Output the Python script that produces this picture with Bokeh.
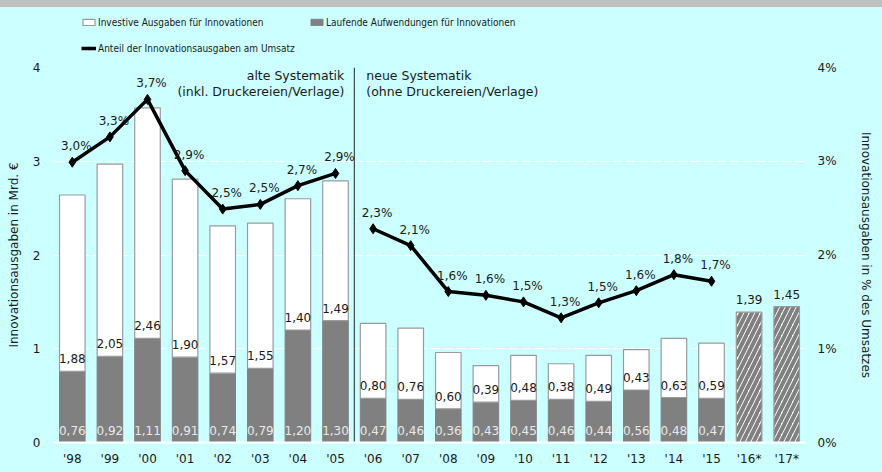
from bokeh.plotting import figure
from bokeh.models import (FactorRange, Range1d, LinearAxis, Label, Legend,
                          LegendItem, ColumnDataSource, Div)
from bokeh.layouts import column
from bokeh.embed import file_html
from bokeh.resources import INLINE
from bokeh.core.properties import value

# ---------------- data ----------------
years = ["'98", "'99", "'00", "'01", "'02", "'03", "'04", "'05", "'06", "'07",
         "'08", "'09", "'10", "'11", "'12", "'13", "'14", "'15", "'16*", "'17*"]
actual_years = years[:18]
plan_years = years[18:]
old_years = years[:8]
new_years = years[8:18]

laufende = [0.76, 0.92, 1.11, 0.91, 0.74, 0.79, 1.20, 1.30, 0.47, 0.46,
            0.36, 0.43, 0.45, 0.46, 0.44, 0.56, 0.48, 0.47]
investive = [1.88, 2.05, 2.46, 1.90, 1.57, 1.55, 1.40, 1.49, 0.80, 0.76,
             0.60, 0.39, 0.48, 0.38, 0.49, 0.43, 0.63, 0.59]
plan_total = [1.39, 1.45]
anteil = [2.99, 3.26, 3.66, 2.90, 2.49, 2.54, 2.74, 2.87, 2.28, 2.10,
          1.61, 1.57, 1.50, 1.33, 1.49, 1.62, 1.79, 1.72]

left_ticks = [0, 1, 2, 3, 4]
right_ticks = [0, 1, 2, 3, 4]

legend_labels = ["Investive Ausgaben für Innovationen",
                 "Laufende Aufwendungen für Innovationen",
                 "Anteil der Innovationsausgaben am Umsatz"]

# ---------------- style ----------------
BG = "#CCFFFF"
GREY = "#808080"
EDGE = "#9A9A9A"
FONT = "DejaVu Sans"
TXT = "#1a1a1a"
W = 882
STRIP_H = 7
LEG_H = 53
MAIN_H = 472 - STRIP_H - LEG_H
Y_MAX = left_ticks[-1]

def fmt(v, d):
    return f"{v:.{d}f}".replace(".", ",")

total = [a + b for a, b in zip(laufende, investive)]
src = ColumnDataSource(dict(x=actual_years, lauf=laufende, inv=investive, total=total,
                            lauf_lbl=[fmt(v, 2) for v in laufende],
                            inv_lbl=[fmt(v, 2) for v in investive]))
plan_src = ColumnDataSource(dict(x=plan_years, total=plan_total,
                                 lbl=[fmt(v, 2) for v in plan_total]))
pct_src = ColumnDataSource(dict(x=actual_years, y=anteil,
                                lbl=[fmt(v, 1) + "%" for v in anteil]))

bar_w = 0.68
lauf_style = dict(fill_color=GREY, line_color=GREY)
inv_style = dict(fill_color="white", line_color=EDGE, line_width=1.2)
line_style = dict(line_width=3.5, color="black")
mark_style = dict(marker="diamond", size=10, color="black")

# ---------------- main chart ----------------
p = figure(x_range=FactorRange(factors=years, range_padding=0),
           y_range=Range1d(0, Y_MAX), width=W, height=MAIN_H,
           output_backend="svg", toolbar_location=None,
           min_border_left=53, min_border_right=77, min_border_top=7,
           min_border_bottom=30, background_fill_color=BG,
           border_fill_color=BG, outline_line_color=None)
p.extra_y_ranges = {"pct": Range1d(0, Y_MAX)}

p.xgrid.grid_line_color = None
p.ygrid.grid_line_color = "white"
p.ygrid.grid_line_dash = "10 3"
p.ygrid.grid_line_width = 1.2
p.ygrid.ticker = left_ticks

p.vbar(x="x", bottom=0, top="lauf", width=bar_w, source=src, **lauf_style)
p.vbar(x="x", bottom="lauf", top="total", width=bar_w, source=src, **inv_style)
p.vbar(x="x", bottom=0, top="total", width=bar_w, source=plan_src,
       hatch_pattern="/", hatch_color=GREY, hatch_weight=4, hatch_scale=11, **inv_style)

sep = len(old_years)
p.segment(x0=[sep], y0=[0], x1=[sep], y1=[Y_MAX], line_color="#222222", line_width=1)

lbl_style = dict(text_align="center", text_baseline="bottom", y_offset=-8,
                 text_font=value(FONT), text_font_size="12px")
p.text(x="x", y=0, text="lauf_lbl", source=src, text_color="#E8E8E8", **lbl_style)
p.text(x="x", y="lauf", text="inv_lbl", source=src, text_color=TXT, **lbl_style)
p.text(x="x", y="total", text="lbl", source=plan_src, text_color=TXT, **lbl_style)

p.line(x=old_years, y=anteil[:8], y_range_name="pct", **line_style)
p.line(x=new_years, y=anteil[8:], y_range_name="pct", **line_style)
p.scatter(x="x", y="y", source=pct_src, y_range_name="pct", **mark_style)
p.text(x="x", y="y", text="lbl", source=pct_src, y_range_name="pct",
       text_align="center", text_baseline="middle", x_offset=4, y_offset=-16,
       text_color=TXT, text_font=value(FONT), text_font_size="12px")

for txt, yo, align, xo in [("alte Systematik", -8, "right", -10),
                           ("(inkl. Druckereien/Verlage)", -24, "right", -10),
                           ("neue Systematik", -8, "left", 12),
                           ("(ohne Druckereien/Verlage)", -24, "left", 12)]:
    p.add_layout(Label(x=sep, y=Y_MAX, text=txt, x_offset=xo, y_offset=yo,
                       text_align=align, text_baseline="middle",
                       text_font=FONT, text_font_size="12.5px", text_color=TXT))

p.xaxis.axis_line_color = "white"
p.xaxis.axis_line_width = 2
p.xaxis.major_tick_line_color = None
p.xaxis.minor_tick_line_color = None
p.xaxis.major_tick_out = 0
p.xaxis.major_label_standoff = 9
p.xaxis.major_label_text_font = FONT
p.xaxis.major_label_text_font_size = "12px"
p.xaxis.major_label_text_color = TXT

def style_y(ax, standoff, title, title_standoff):
    ax.axis_line_color = None
    ax.major_tick_line_color = None
    ax.minor_tick_line_color = None
    ax.major_tick_out = 0
    ax.major_tick_in = 0
    ax.minor_tick_out = 0
    ax.major_label_standoff = standoff
    ax.major_label_text_font = FONT
    ax.major_label_text_font_size = "12px"
    ax.major_label_text_color = TXT
    ax.axis_label = title
    ax.axis_label_text_font = FONT
    ax.axis_label_text_font_size = "12px"
    ax.axis_label_text_font_style = "normal"
    ax.axis_label_text_color = TXT
    ax.axis_label_standoff = title_standoff

p.yaxis.ticker = left_ticks
style_y(p.yaxis[0], 13, "Innovationsausgaben in Mrd. €", 9)

ax_r = LinearAxis(y_range_name="pct", ticker=right_ticks,
                  major_label_overrides={t: f"{t}%" for t in right_ticks})
style_y(ax_r, 12, "Innovationsausgaben in % des Umsatzes", 19)
p.add_layout(ax_r, "right")

# ---------------- legend band ----------------
lg = figure(x_range=Range1d(0, 1), y_range=Range1d(0, 1), width=W, height=LEG_H,
            output_backend="svg", toolbar_location=None, x_axis_type=None,
            y_axis_type=None, min_border_left=53, min_border_right=77,
            min_border_top=0, min_border_bottom=0, background_fill_color=BG,
            border_fill_color=BG, outline_line_color=None)
lg.xgrid.grid_line_color = None
lg.ygrid.grid_line_color = None
# proxy renderers (outside the visible range) that only supply legend glyphs
d_inv = lg.vbar(x=[-5], top=[-4], width=0.1, **inv_style)
d_lauf = lg.vbar(x=[-5], top=[-4], width=0.1, **lauf_style)
d_line = lg.line(x=[-5, -4], y=[-5, -5], **line_style)
d_mark = lg.scatter(x=[-5], y=[-5], **mark_style)

legend = Legend(items=[LegendItem(label=legend_labels[0], renderers=[d_inv]),
                       LegendItem(label=legend_labels[1], renderers=[d_lauf]),
                       LegendItem(label=legend_labels[2], renderers=[d_line, d_mark])],
                location=(28, 2), orientation="horizontal", ncols=2,
                glyph_width=15, glyph_height=8, label_width=205, label_height=20,
                label_standoff=2, spacing=6, padding=0, margin=0,
                background_fill_alpha=0, border_line_color=None,
                label_text_font="'DejaVu Sans Condensed', 'Liberation Sans'",
                label_text_font_size="10px", label_text_color=TXT)
lg.add_layout(legend, "center")

strip = Div(text="", width=W, height=STRIP_H, margin=0,
            styles={"background-color": "#C0C0C0"})

layout = column(strip, lg, p, spacing=0, styles={"background-color": BG})

open("out.html", "w").write(file_html(layout, INLINE))
